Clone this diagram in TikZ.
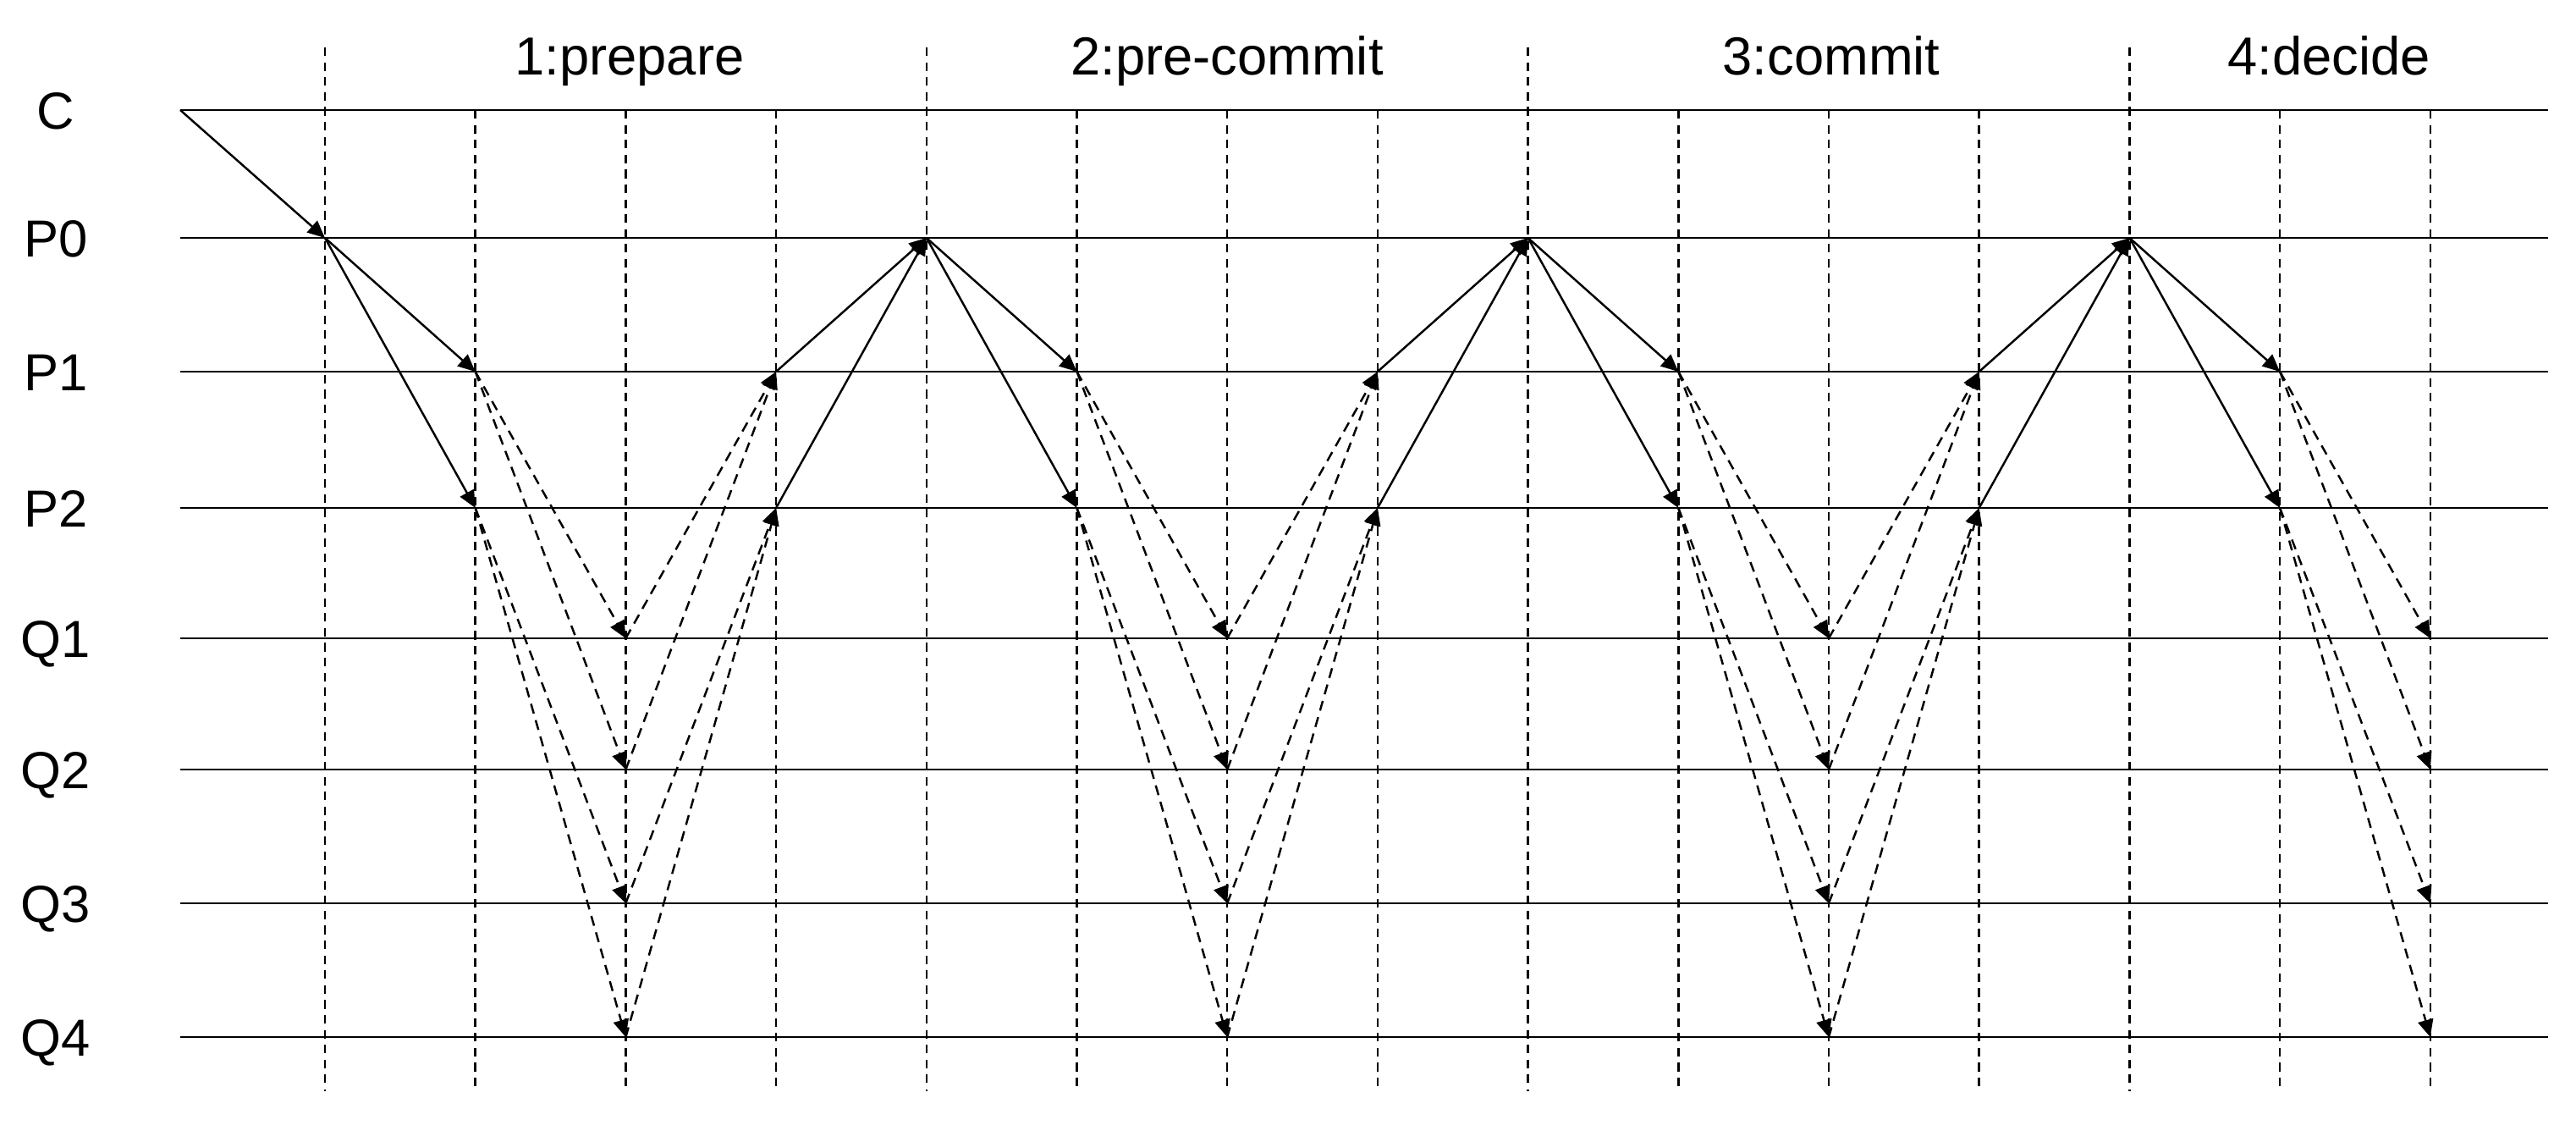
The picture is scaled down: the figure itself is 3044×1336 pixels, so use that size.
\documentclass[tikz,border=0pt]{standalone}
\usepackage{fontspec}
\setmainfont{Liberation Sans}
\usetikzlibrary{arrows.meta}

\begin{document}
\begin{tikzpicture}[x=0.01cm, y=-0.01cm,
    lane/.style={line width=0.75pt},
    grid/.style={line width=0.7pt, dash pattern=on 2.9pt off 2.1pt},
    msg/.style={line width=0.7pt, -{Triangle[length=5.8pt,width=5.2pt]}},
    relay/.style={msg, dash pattern=on 3.4pt off 2.3pt},
    lbl/.style={font=\fontsize{17.5}{20}\selectfont, anchor=base, inner sep=0pt},
    phase/.style={font=\fontsize{18}{21}\selectfont, anchor=base, inner sep=0pt}]
  \useasboundingbox (0,0) rectangle (3044,1336);
  \foreach \j in {0,...,14} {
    \pgfmathsetmacro\ytop{mod(\j,4)==0 ? 56 : 130}
    \coordinate (top-\j) at ({384+177.7*\j},\ytop);
    \coordinate (bot-\j) at ({384+177.7*\j},1289);
    \draw[grid] (top-\j) -- (bot-\j);
  }
  \foreach \r/\y in {C/130, P0/281, P1/439, P2/600, Q1/754, Q2/909, Q3/1067, Q4/1225} {
    \node[lbl] (\r) at (66,\y+22) {\r};
    \coordinate (\r-l) at (213,\y);
    \coordinate (\r-r) at (3011,\y);
    \draw[lane] (\r-l) -- (\r-r);
    \foreach \j in {0,...,14}
      \coordinate (\r-\j) at ({384+177.7*\j},\y);
  }
  \node[phase] (ph1) at (744,88) {1:prepare};
  \node[phase] (ph2) at (1450,88) {2:pre-commit};
  \node[phase] (ph3) at (2164,88) {3:commit};
  \node[phase] (ph4) at (2752,88) {4:decide};
  \draw[msg] (C-l) -- (P0-0);
  \foreach \b in {0,4,8,12} {
    \pgfmathtruncatemacro\ba{\b+1}
    \pgfmathtruncatemacro\bb{\b+2}
    \pgfmathtruncatemacro\bc{\b+3}
    \pgfmathtruncatemacro\bd{\b+4}
    \draw[msg] (P0-\b) -- (P1-\ba);
    \draw[msg] (P0-\b) -- (P2-\ba);
    \draw[relay] (P1-\ba) -- (Q1-\bb);
    \draw[relay] (P1-\ba) -- (Q2-\bb);
    \draw[relay] (P2-\ba) -- (Q3-\bb);
    \draw[relay] (P2-\ba) -- (Q4-\bb);
    \ifnum\b<12
      \draw[relay] (Q1-\bb) -- (P1-\bc);
      \draw[relay] (Q2-\bb) -- (P1-\bc);
      \draw[relay] (Q3-\bb) -- (P2-\bc);
      \draw[relay] (Q4-\bb) -- (P2-\bc);
      \draw[msg] (P1-\bc) -- (P0-\bd);
      \draw[msg] (P2-\bc) -- (P0-\bd);
    \fi
  }
\end{tikzpicture}
\end{document}
